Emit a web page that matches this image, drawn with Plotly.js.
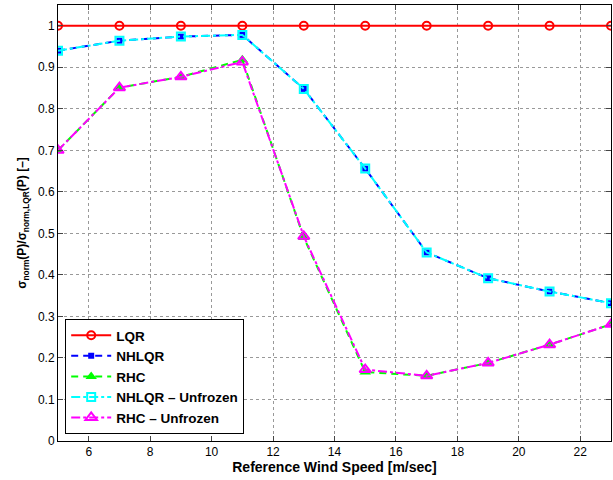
<!DOCTYPE html>
<html><head><meta charset="utf-8">
<script src="https://cdn.plot.ly/plotly-3.0.1.min.js"></script>
<style>html,body{margin:0;padding:0;background:#fff}#plot{width:613px;height:480px}</style>
</head><body><div id="plot"></div>
<script>
const windSpeed = [5, 7, 9, 11, 13, 15, 17, 19, 21, 23];
const lqr = [1, 1, 1, 1, 1, 1, 1, 1, 1, 1];
const nhlqr = [0.940, 0.964, 0.974, 0.978, 0.848, 0.656, 0.454, 0.392, 0.360, 0.332];
const rhc = [0.700, 0.851, 0.877, 0.918, 0.490, 0.166, 0.157, 0.188, 0.232, 0.281];
const nhlqrUnfrozen = [0.940, 0.964, 0.974, 0.978, 0.848, 0.656, 0.454, 0.392, 0.360, 0.332];
const rhcUnfrozen = [0.700, 0.851, 0.877, 0.913, 0.493, 0.172, 0.157, 0.188, 0.232, 0.281];
const xTicks = [6, 8, 10, 12, 14, 16, 18, 20, 22];
const yTicks = [0, 0.1, 0.2, 0.3, 0.4, 0.5, 0.6, 0.7, 0.8, 0.9, 1];
const yTickText = ['0', '0.1', '0.2', '0.3', '0.4', '0.5', '0.6', '0.7', '0.8', '0.9', '1'];

const traces = [
  {x: windSpeed, y: lqr, name: 'LQR', mode: 'lines+markers',
   line: {color: '#ff0000', width: 2},
   marker: {symbol: 'circle-open', size: 8, color: '#ff0000', line: {width: 2}}},
  {x: windSpeed, y: nhlqr, name: 'NHLQR', mode: 'lines+markers',
   line: {color: '#0000ff', width: 2, dash: '7px,5px'},
   marker: {symbol: 'square', size: 6, color: '#0000ff'}},
  {x: windSpeed, y: rhc, name: 'RHC', mode: 'lines+markers',
   line: {color: '#00ff00', width: 2, dash: '7px,5px'},
   marker: {symbol: 'triangle-up', size: 10, color: '#00ff00'}},
  {x: windSpeed, y: nhlqrUnfrozen, name: 'NHLQR \u2013 Unfrozen', mode: 'lines+markers',
   line: {color: '#00ffff', width: 2, dash: 'dashdot'},
   marker: {symbol: 'square-open', size: 8, color: '#00ffff', line: {width: 2}}},
  {x: windSpeed, y: rhcUnfrozen, name: 'RHC \u2013 Unfrozen', mode: 'lines+markers',
   line: {color: '#ff00ff', width: 2, dash: 'dashdot'},
   marker: {symbol: 'triangle-up-open', size: 10, color: '#ff00ff', line: {width: 2}}}
];

const layout = {
  width: 613, height: 480,
  margin: {l: 58, r: 2, t: 5, b: 39},
  paper_bgcolor: '#fff', plot_bgcolor: '#fff',
  font: {family: 'Liberation Sans, Arial, sans-serif', size: 12, color: '#000'},
  showlegend: true,
  legend: {x: 0.013, y: 0.016, xanchor: 'left', yanchor: 'bottom',
    bordercolor: '#000', borderwidth: 1, bgcolor: '#fff',
    font: {size: 13.5, family: 'Liberation Sans, Arial, sans-serif', weight: 'bold'},
    tracegroupgap: 0, itemwidth: 40},
  xaxis: {range: [5, 23], tickvals: xTicks, ticks: 'inside', ticklen: 5,
    showline: true, linecolor: '#000', linewidth: 1, mirror: 'ticks',
    showgrid: true, gridcolor: '#999', griddash: 'dot', gridwidth: 1, zeroline: false,
    title: {text: '<b>Reference Wind Speed [m/sec]</b>', font: {size: 14}, standoff: 2}},
  yaxis: {range: [0, 1.05], tickvals: yTicks, ticktext: yTickText, ticks: 'inside', ticklen: 5,
    showline: true, linecolor: '#000', linewidth: 1, mirror: 'ticks',
    showgrid: true, gridcolor: '#999', griddash: 'dot', gridwidth: 1, zeroline: false,
    title: {text: '<b>\u03c3<sub>norm</sub>(P)/\u03c3<sub>norm,LQR</sub>(P) [\u2013]</b>', font: {size: 12}, standoff: 8}}
};

Plotly.newPlot('plot', traces, layout, {displayModeBar: false, staticPlot: true});
</script></body></html>
